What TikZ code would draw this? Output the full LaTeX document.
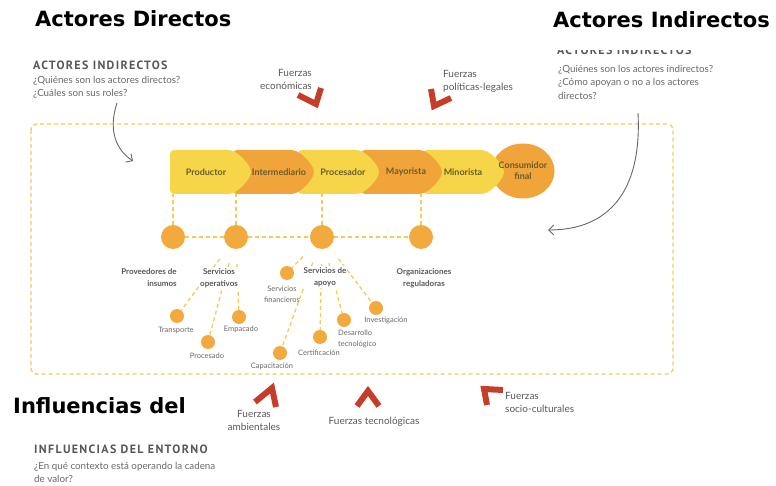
\documentclass[tikz,border=0pt]{standalone}
\usepackage{fontspec}
\setmainfont{Lato}
\newfontfamily\headfont{DejaVu Sans}
\newfontfamily\handfont{PT Sans}[LetterSpace=11]
\usetikzlibrary{shapes.geometric,arrows.meta,backgrounds}

\definecolor{stageyellow}{RGB}{246,214,72}
\definecolor{stageorange}{RGB}{241,164,58}
\definecolor{dotorange}{RGB}{242,170,62}
\definecolor{linkyellow}{RGB}{246,202,86}
\definecolor{forcered}{RGB}{196,62,42}
\definecolor{stagetext}{RGB}{105,92,40}
\definecolor{labelgray}{RGB}{88,88,88}
\definecolor{notegray}{RGB}{105,105,105}

% one stage of the chain: colour, left x
\newcommand{\stagearrow}[2]{%
  \fill[#1, rounded corners=4pt] (#2,150) -- (#2+54,150)
    .. controls (#2+66,150) and (#2+76,160) .. (#2+82,172)
    .. controls (#2+76,184) and (#2+66,194) .. (#2+54,194)
    -- (#2,194) -- cycle;}

\tikzset{
  stagelabel/.style={minimum height=44pt, inner sep=0pt, align=center, text=stagetext, font=\fontsize{9}{11}\selectfont\bfseries},
  hub/.style={circle, fill=dotorange, minimum size=24pt, inner sep=0pt},
  dot/.style={circle, fill=dotorange, minimum size=14pt, inner sep=0pt},
  link/.style={draw=linkyellow, line width=1.3pt, dash pattern=on 4pt off 3pt},
  hublabel/.style={font=\fontsize{8}{12}\selectfont\bfseries, text=labelgray, align=center, fill=white, inner sep=1pt},
  dotlabel/.style={font=\fontsize{7.5}{11}\selectfont, text=notegray, align=center, inner sep=1pt},
  force/.style={draw=forcered, line width=6pt, line join=miter},
  forcelabel/.style={font=\fontsize{10}{13}\selectfont, text=labelgray, inner sep=0pt},
  note/.style={font=\fontsize{9.8}{13}\selectfont, text=notegray, anchor=west, inner sep=0pt},
  notehead/.style={font=\handfont\bfseries\fontsize{12}{14}\selectfont, text=labelgray, anchor=west, inner sep=0pt},
  bigtitle/.style={font=\headfont\bfseries\fontsize{21}{24}\selectfont, anchor=west, inner sep=0pt},
  curvearrow/.style={draw=black!60, line width=0.9pt, -{Straight Barb[length=5pt,width=10pt]}}
}

\begin{document}
\begin{tikzpicture}[x=1pt,y=-1pt]
\useasboundingbox (0,0) rectangle (776,486);

% Titles
\node[bigtitle] (tdir) at (35,19) {Actores Directos};
\node[bigtitle] (tind) at (553,20) {Actores Indirectos};
\node[bigtitle] (tinf) at (13,406) {Influencias del};

% Notes, top left
\node[notehead] (hdir) at (33,65) {ACTORES INDIRECTOS};
\node[note] (qdir1) at (33,81) {¿Quiénes son los actores directos?};
\node[note] (qdir2) at (33,94) {¿Cuáles son sus roles?};

% Notes, top right (heading half hidden)
\begin{scope}
  \clip (540,51) rectangle (760,62);
  \node[notehead] (hind) at (557,50) {ACTORES INDIRECTOS};
\end{scope}
\node[note] (qind1) at (558,70) {¿Quiénes son los actores indirectos?};
\node[note] (qind2) at (558,83) {¿Cómo apoyan o no a los actores};
\node[note] (qind3) at (558,96) {directos?};

% Notes, bottom
\node[notehead] (henv) at (34,449) {INFLUENCIAS DEL ENTORNO};
\node[note] (qenv1) at (34,467) {¿En qué contexto está operando la cadena};
\node[note] (qenv2) at (34,479) {de valor?};

% Frame
\draw[link, rounded corners=6pt] (31,124) rectangle (673,374);

% Chain (last first, so each tip lies on the next stage)
\node[ellipse, fill=stageorange, minimum width=63pt, minimum height=55pt, inner sep=0pt] (cons) at (523,171) {};
\stagearrow{stageyellow}{423}
\node[stagelabel] (mino) at (463,172) {Minorista};
\node[stagelabel] (consname) at (cons) {Consumidor\\final};
\stagearrow{stageorange}{361}
\node[stagelabel] (mayo) at (406,172) {Mayorista};
\stagearrow{stageyellow}{298}
\node[stagelabel] (proc) at (343,172) {Procesador};
\stagearrow{stageorange}{233}
\node[stagelabel] (inter) at (279,172) {Intermediario};
\stagearrow{stageyellow}{170}
\node[stagelabel] (prod) at (206,172) {Productor};

% Hubs
\node[hub] (hprov) at (173,237) {};
\node[hub] (hoper) at (236,237) {};
\node[hub] (hapoy) at (322,237) {};
\node[hub] (hregu) at (421,237) {};

\node[hublabel, align=right] (lprov) at (149,278) {Proveedores de\\insumos};
\node[hublabel] (loper) at (219,278) {Servicios\\operativos};
\node[hublabel] (lapoy) at (325,277) {Servicios de\\apoyo};
\node[hublabel] (lregu) at (424,278) {Organizaciones\\reguladoras};

% Services
\node[dot] (dtran) at (177,316) {};
\node[dot] (dempa) at (239,317) {};
\node[dot] (dproc) at (208,342) {};
\node[dot] (dfina) at (287,273) {};
\node[dot] (dcapa) at (280,353) {};
\node[dot] (dcert) at (320,337) {};
\node[dot] (ddesa) at (344,320) {};
\node[dot] (dinve) at (376,308) {};

\node[dotlabel] (ltran) at (176,330) {Transporte};
\node[dotlabel] (lempa) at (241,329) {Empacado};
\node[dotlabel] (lproc) at (207,356) {Procesado};
\node[dotlabel] (lfina) at (282,294) {Servicios\\financieros};
\node[dotlabel] (lcapa) at (272,366) {Capacitación};
\node[dotlabel] (lcert) at (319,353) {Certificación};
\node[dotlabel, align=left, anchor=west] (ldesa) at (337,339) {Desarrollo\\tecnológico};
\node[dotlabel] (linve) at (386,320) {Investigación};

% Links
\begin{pgfonlayer}{background}
  \draw[link] (hprov) -- (hprov |- prod.south);
  \draw[link] (hoper) -- (hoper |- inter.south);
  \draw[link] (hapoy) -- (hapoy |- proc.south);
  \draw[link] (hregu) -- (hregu |- mayo.south);
  \draw[link] (hprov) -- (hoper) -- (hapoy) -- (hregu);
  \draw[link, shorten <=15pt] (hoper) -- (dtran);
  \draw[link, shorten <=15pt] (hoper) -- (dproc);
  \draw[link, shorten <=15pt] (hoper) -- (dempa);
  \draw[link, shorten <=15pt] (hapoy) -- (dfina);
  \draw[link, shorten <=15pt] (hapoy) -- (dcapa);
  \draw[link, shorten <=15pt] (hapoy) -- (dcert);
  \draw[link, shorten <=15pt] (hapoy) -- (ddesa);
  \draw[link, shorten <=15pt] (hapoy) -- (dinve);
\end{pgfonlayer}

% Forces
\draw[force] (298,95) -- (316,104) -- (321,88);
\draw[force] (431,89) -- (434,106) -- (451,98);
\draw[force] (255,402) -- (272,388) -- (276,407);
\draw[force] (357,406) -- (368,391) -- (379,406);
\draw[force] (487,405) -- (484,389) -- (503,390);

\node[forcelabel, align=right, anchor=east] (fecon) at (312,79) {Fuerzas\\económicas};
\node[forcelabel, align=left, anchor=west] (fpoli) at (443,81) {Fuerzas\\políticas-legales};
\node[forcelabel, align=center] (fambi) at (254,420) {Fuerzas\\ambientales};
\node[forcelabel] (ftecn) at (374,422) {Fuerzas tecnológicas};
\node[forcelabel, align=left, anchor=west] (fsoci) at (505,402) {Fuerzas\\socio-culturales};

% Curved arrows
\coordinate (adir0) at (117,103);
\coordinate (adir1) at (133,161);
\draw[curvearrow] (adir0) .. controls (108,130) and (116,150) .. (adir1);
\coordinate (aind0) at (638,113);
\coordinate (aind1) at (548,230);
\draw[curvearrow] (aind0) .. controls (642,190) and (610,230) .. (aind1);
\end{tikzpicture}
\end{document}
